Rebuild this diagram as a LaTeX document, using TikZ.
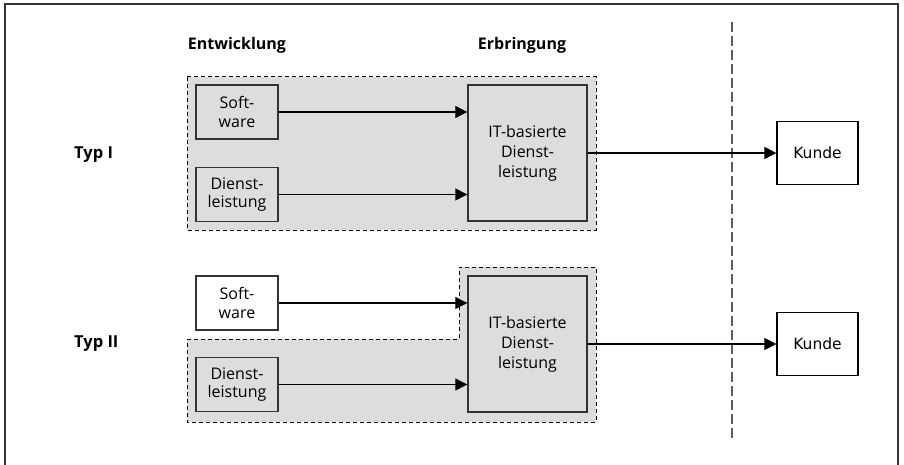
\documentclass[tikz,border=0pt]{standalone}
\usepackage{fontspec}
\setmainfont{Open Sans}
\newfontfamily\kundefont{DejaVu Sans}
\usetikzlibrary{arrows.meta}
\definecolor{grp}{HTML}{DDDDDD}
\definecolor{edge}{HTML}{333333}
\tikzset{
  box/.style={draw=edge, line width=1.4pt, fill=grp, minimum width=82pt, minimum height=54pt, inner sep=0pt, align=center, font=\fontsize{16}{18.5}\selectfont},
  wbox/.style={box, fill=white},
  itbox/.style={box, minimum width=119pt, minimum height=136pt, font=\fontsize{16}{20}\selectfont},
  kbox/.style={draw=black, line width=1.2pt, fill=white, minimum width=81pt, minimum height=63pt, inner sep=0pt, font=\kundefont\fontsize{15.5}{18}\selectfont},
  grpline/.style={draw=black, fill=grp, line width=1pt, dash pattern=on 4pt off 3pt},
  conn/.style={draw=black, line width=1.2pt, -{Triangle[length=12pt,width=12pt]}},
  head/.style={font=\bfseries\fontsize{16}{18}\selectfont, inner sep=0pt},
  typ/.style={font=\bfseries\fontsize{16.5}{18}\selectfont, inner sep=0pt, anchor=west}
}
\begin{document}
\begin{tikzpicture}[x=1pt,y=-1pt]
\useasboundingbox (0,0) rectangle (904,465);
\draw[draw=edge, line width=1.4pt] (5,466) -- (5,4) -- (898,4) -- (898,466);
% separator
\draw[draw=edge!80, line width=1.2pt, dash pattern=on 10pt off 4pt] (732,22) -- (732,439);
% groups
\path[grpline] (187,77) rectangle (596,230);
\path[grpline] (187,339) -- (459,339) -- (459,267) -- (596,267) -- (596,422) -- (187,422) -- cycle;
% headers
\node[head] (hE) at (237,45) {Entwicklung};
\node[head] (hB) at (522,45) {Erbringung};
\node[typ] (t1) at (74,155) {Typ I};
\node[typ] (t2) at (74,344) {Typ II};
% Typ I
\node[box] (s1) at (237,112) {Soft-\\ware};
\node[box] (d1) at (237,194.5) {Dienst-\\leistung};
\node[itbox] (i1) at (527.5,153) {IT-basierte\\Dienst-\\leistung};
\node[kbox] (k1) at (817.5,153) {Kunde};
% Typ II
\node[wbox] (s2) at (237,303) {Soft-\\ware};
\node[box] (d2) at (237,384.5) {Dienst-\\leistung};
\node[itbox] (i2) at (527.5,344) {IT-basierte\\Dienst-\\leistung};
\node[kbox] (k2) at (817.5,344) {Kunde};
% connectors
\draw[conn] (s1.east) -- (s1.east -| i1.west);
\draw[conn] (d1.east) -- (d1.east -| i1.west);
\draw[conn] (i1.east) -- (k1.west);
\draw[conn] (s2.east) -- (s2.east -| i2.west);
\draw[conn] (d2.east) -- (d2.east -| i2.west);
\draw[conn] (i2.east) -- (k2.west);
\end{tikzpicture}
\end{document}
